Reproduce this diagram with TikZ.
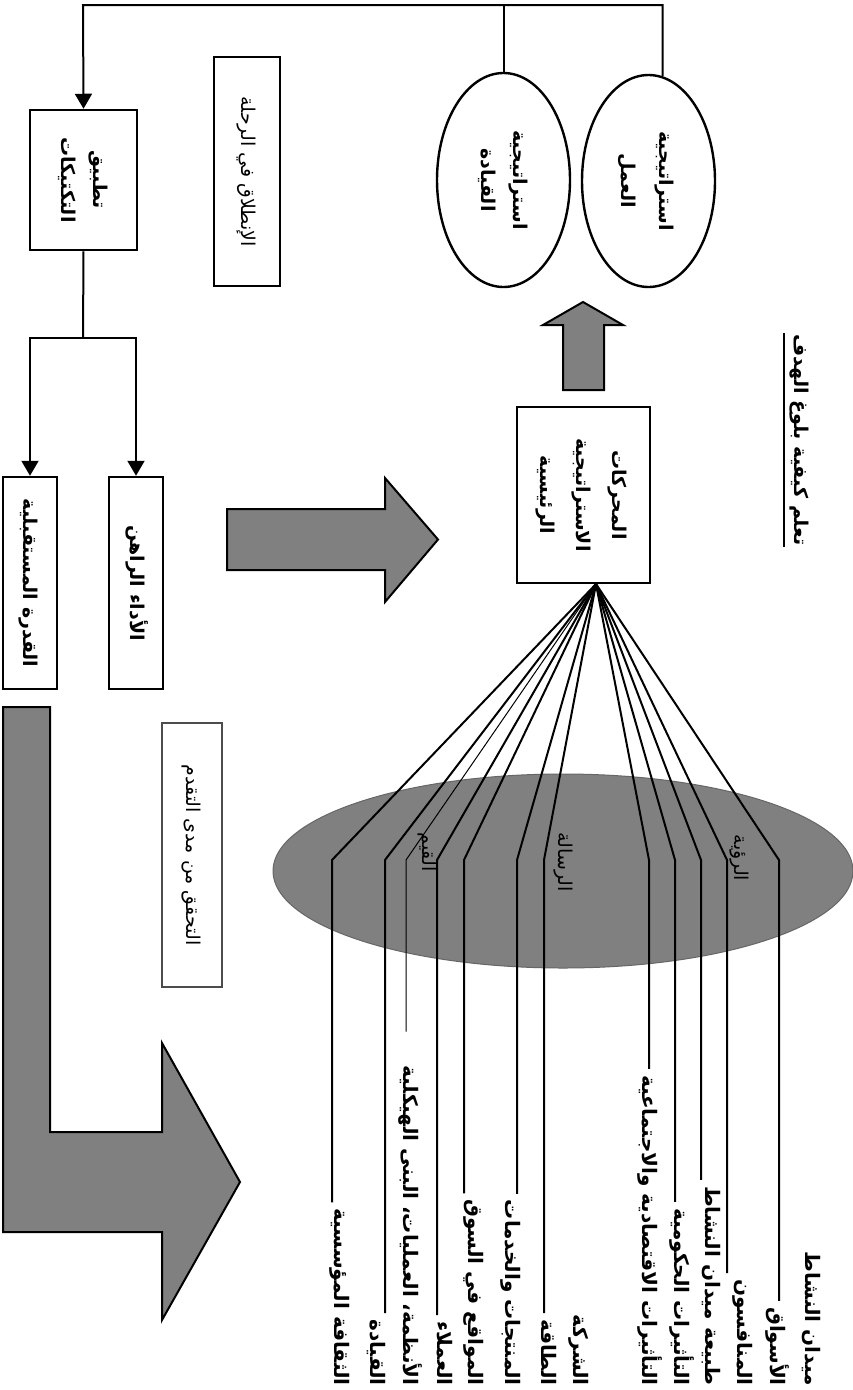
\documentclass[tikz,border=0pt]{standalone}
\usepackage{fontspec}
\newfontfamily\arabicfont[Script=Arabic]{DejaVu Sans}
\TeXXeTstate=1
\usetikzlibrary{arrows.meta,calc,shapes.geometric}
\newcommand{\arl}[1]{\beginR #1\endR}
% \vt{size}{skip}{font switch}{lines}
\newcommand{\vt}[4]{\rotatebox{-90}{\fontsize{#1}{#2}\selectfont\arabicfont#3\begin{tabular}{@{}c@{}}#4\end{tabular}}}
\definecolor{midgray}{HTML}{808080}
\tikzset{
  box/.style={draw=black, line width=2.5pt, fill=white, inner sep=0pt},
  conn/.style={line width=2pt, draw=black},
  arr/.style={conn, -{Triangle[length=15pt,width=17pt]}},
  garrow/.style={fill=midgray, draw=black, line width=2pt, line join=miter},
  lab/.style={inner sep=0pt, anchor=south},
  oval/.style={ellipse, draw=black, line width=2.4pt, fill=white, inner sep=0pt},
}
\begin{document}
\begin{tikzpicture}[x=1pt,y=-1pt]
\useasboundingbox[fill=white] (0,0) rectangle (853,1390);

% title
\node[inner sep=1pt] (title) at (800,440) {\vt{19}{30}{\bfseries}{\arl{تعلم كيفية بلوغ الهدف}}};
\draw[line width=1.4pt] (title.south west) -- (title.north west);

% ellipses top
\node[oval, minimum width=133pt, minimum height=212pt] (E1) at (648.5,181) {\vt{19}{38}{\bfseries}{\arl{استراتيجية}\\\arl{العمل}}};
\node[oval, minimum width=133pt, minimum height=214pt] (E2) at (503.5,180) {\vt{19}{32}{\bfseries}{\arl{استراتيجية}\\\arl{القيادة}}};

% boxes
\node[box, minimum width=107pt, minimum height=140pt] (T) at (83.5,180) {\vt{19}{32}{\bfseries}{\arl{تطبيق}\\\arl{التكتيكات}}};
\node[box, line width=2pt, minimum width=66pt, minimum height=229pt] (J) at (247,171.5) {\vt{19}{30}{}{\arl{الإنطلاق في الرحلة}}};
\node[box, minimum width=54pt, minimum height=212pt] (A) at (136,583) {\vt{19}{30}{\bfseries}{\arl{الأداء الراهن}}};
\node[box, minimum width=54pt, minimum height=212pt] (C) at (30,583) {\vt{19}{30}{\bfseries}{\arl{القدرة المستقبلية}}};
\node[box, draw=black!70, minimum width=60pt, minimum height=264pt] (P) at (192,855) {\vt{19}{30}{}{\arl{التحقق من مدى التقدم}}};
\node[box, minimum width=133pt, minimum height=176pt] (D) at (583.5,495) {\vt{19}{36}{\bfseries}{\arl{المحركات}\\\arl{الاستراتيجية}\\\arl{الرئيسية}}};

% top connectors
\coordinate (tl) at (83,5);
\draw[conn] (E2.north) -- (E2.north |- tl);
\draw[arr] ($(E1.north)+(14,2)$) |- (tl) -- (T.north);

% split to lower boxes
\coordinate (split) at (83,338);
\draw[conn] (T.south) -- (split);
\draw[arr] (split) -| (A.north);
\draw[arr] (split) -| (C.north);

% gray arrows
\draw[garrow] (563,390) -- (604,390) -- (604,325) -- (623,325) -- (583,302) -- (543,325) -- (563,325) -- cycle;
\draw[garrow] (227,509) -- (385,509) -- (385,478) -- (438,539.5) -- (385,602) -- (385,570) -- (227,570) -- cycle;
\draw[garrow] (3,707) -- (50,707) -- (50,1132) -- (162,1132) -- (162,1043) -- (240,1182) -- (162,1320) -- (162,1232) -- (3,1232) -- cycle;

% big gray ellipse
\node[ellipse, fill=midgray, draw=black!60, line width=1pt, minimum width=580pt, minimum height=194pt, inner sep=0pt] (G) at (563,871) {};

% labels
\node[lab] (L1) at (340,1386) {\vt{20}{30}{\bfseries}{\arl{الثقافة المؤسسية}}};
\node[lab] (L2) at (376,1386) {\vt{20}{30}{\bfseries}{\arl{القيادة}}};
\node[lab] (L3) at (409,1386) {\vt{20}{30}{\bfseries}{\arl{الأنظمة، العمليات، البنى الهيكلية}}};
\node[lab] (L4) at (443,1386) {\vt{20}{30}{\bfseries}{\arl{العملاء}}};
\node[lab] (L5) at (474,1386) {\vt{20}{30}{\bfseries}{\arl{المواقع في السوق}}};
\node[lab] (L6) at (511,1386) {\vt{20}{30}{\bfseries}{\arl{المنتجات والخدمات}}};
\node[lab] (L7) at (547,1386) {\vt{20}{30}{\bfseries}{\arl{الطاقة}}};
\node[lab] (L8) at (579,1386) {\vt{20}{30}{\bfseries}{\arl{الشركة}}};
\node[lab] (L9) at (648,1386) {\vt{20}{30}{\bfseries}{\arl{التأثيرات الاقتصادية والاجتماعية}}};
\node[lab] (L10) at (680,1386) {\vt{20}{30}{\bfseries}{\arl{التأثيرات الحكومية}}};
\node[lab] (L11) at (711,1386) {\vt{20}{30}{\bfseries}{\arl{طبيعة ميدان النشاط}}};
\node[lab] (L12) at (743,1386) {\vt{20}{30}{\bfseries}{\arl{المنافسون}}};
\node[lab] (L13) at (776,1386) {\vt{20}{30}{\bfseries}{\arl{الأسواق}}};
\node[lab] (L14) at (811,1386) {\vt{20}{30}{\bfseries}{\arl{ميدان النشاط}}};

% fan
\coordinate (apex) at (596,584);
\foreach \lx/\lb in {332/L1, 385/L2, 437/L4, 464/L5, 517/L6, 544/L7, 649/L9, 675/L10, 701/L11, 727/L12, 779/L13}{
  \coordinate (b\lb) at (\lx,860);
  \draw[conn, shorten >=6pt, line join=round] (apex) -- (b\lb) -- (b\lb |- \lb.north);
}
\coordinate (bL3) at (406,860);
\draw[line width=1pt, shorten >=34pt, line join=round] (apex) -- (bL3) -- (bL3 |- L3.north);

% ellipse texts
\node[inner sep=0pt] (V) at (740,858) {\vt{19}{30}{}{\arl{الرؤية}}};
\node[inner sep=0pt] (M) at (564,862) {\vt{19}{30}{}{\arl{الرسالة}}};
\node[inner sep=0pt] (Q) at (428,852) {\vt{19}{30}{}{\arl{القيم}}};
\end{tikzpicture}
\end{document}
